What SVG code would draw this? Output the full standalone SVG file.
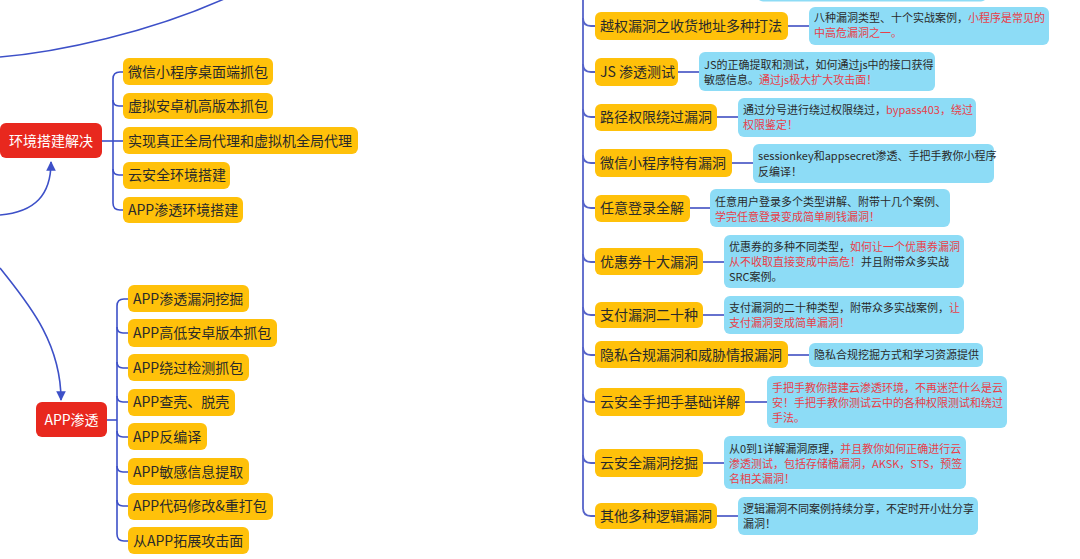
<svg xmlns="http://www.w3.org/2000/svg" width="1080" height="559" viewBox="0 0 1080 559">
<style>
.bg{fill:#ffffff}
.ln{fill:none;stroke:#3d50c8;stroke-width:1.6}
.lnr{fill:none;stroke:#5563c9;stroke-width:1.8}
.red{fill:#e8281e}
.org{fill:#ffc10a}
.blu{fill:#8ddcf6}
.t{font-family:"Noto Sans CJK SC","Noto Sans",sans-serif;font-size:14px;fill:#2a2a2a}
.tw{font-family:"Noto Sans CJK SC","Noto Sans",sans-serif;font-size:14px;fill:#ffffff}
.s{font-family:"Noto Sans CJK SC","Noto Sans",sans-serif;font-size:11px;fill:#2a2a2a}
.r{fill:#e8404a}
</style>
<defs>
<marker id="ah" viewBox="0 0 10 10" refX="9" refY="5" markerWidth="6" markerHeight="6" orient="auto-start-reverse">
<path d="M0,0 L10,5 L0,10 z" fill="#3d50c8"/>
</marker>
</defs>
<rect class="bg" x="0" y="0" width="1080" height="559"/>

<g id="connectors">
<path class="ln" d="M0,57 C60,52 150,32 224,-1"/>
<path class="ln" d="M0,215 C35,212 51,195 51,162" marker-end="url(#ah)"/>
<path class="ln" d="M0,268 C25,300 61,340 61,400" marker-end="url(#ah)"/>
<!-- bracket 1 -->
<path class="ln" d="M102,141 H113"/>
<path class="ln" d="M123,72 H120 Q113,72 113,79 V203 Q113,210 120,210 H123"/>
<path class="ln" d="M113,100 Q113,106 119,106 H123"/>
<path class="ln" d="M113,141 H123"/>
<path class="ln" d="M113,169 Q113,175 119,175 H123"/>
<!-- bracket 2 -->
<path class="ln" d="M107,420 H117"/>
<path class="ln" d="M128,299 H124 Q117,299 117,306 V534 Q117,541 124,541 H128"/>
<path class="ln" d="M117,327 Q117,333 123,333 H128"/>
<path class="ln" d="M117,362 Q117,368 123,368 H128"/>
<path class="ln" d="M117,396 Q117,402 123,402 H128"/>
<path class="ln" d="M117,431 Q117,437 123,437 H128"/>
<path class="ln" d="M117,466 Q117,472 123,472 H128"/>
<path class="ln" d="M117,500 Q117,506 123,506 H128"/>
<!-- right trunk -->
<path class="lnr" d="M583,-2 V508 Q583,516 591,516 H595"/>
<path class="lnr" d="M583,18 Q583,26 591,26 H595"/>
<path class="lnr" d="M583,64 Q583,72 591,72 H595"/>
<path class="lnr" d="M583,109 Q583,117 591,117 H595"/>
<path class="lnr" d="M583,155 Q583,163 591,163 H595"/>
<path class="lnr" d="M583,200 Q583,208 591,208 H595"/>
<path class="lnr" d="M583,254 Q583,262 591,262 H595"/>
<path class="lnr" d="M583,307 Q583,315 591,315 H595"/>
<path class="lnr" d="M583,347 Q583,355 591,355 H595"/>
<path class="lnr" d="M583,394 Q583,402 591,402 H595"/>
<path class="lnr" d="M583,455 Q583,463 591,463 H595"/>
<!-- node to note -->
<path class="lnr" d="M788,26 H809"/>
<path class="lnr" d="M678,72 H699"/>
<path class="lnr" d="M717,117 H738"/>
<path class="lnr" d="M732,163 H753"/>
<path class="lnr" d="M690,208 H710"/>
<path class="lnr" d="M703,262 H724"/>
<path class="lnr" d="M703,315 H724"/>
<path class="lnr" d="M788,355 H809"/>
<path class="lnr" d="M745,402 H767"/>
<path class="lnr" d="M703,463 H724"/>
<path class="lnr" d="M717,516 H738"/>
</g>

<g id="n-env"><rect class="red" x="0" y="123" width="102" height="35" rx="6"/><text class="tw" x="9" y="146">环境搭建解决</text></g>
<g id="n-env1"><rect class="org" x="123" y="58" width="150" height="27" rx="6"/><text class="t" x="128" y="77">微信小程序桌面端抓包</text></g>
<g id="n-env2"><rect class="org" x="123" y="93" width="150" height="26" rx="6"/><text class="t" x="128" y="111">虚拟安卓机高版本抓包</text></g>
<g id="n-env3"><rect class="org" x="123" y="127" width="235" height="27" rx="6"/><text class="t" x="128" y="146">实现真正全局代理和虚拟机全局代理</text></g>
<g id="n-env4"><rect class="org" x="123" y="162" width="107" height="27" rx="6"/><text class="t" x="128" y="180">云安全环境搭建</text></g>
<g id="n-env5"><rect class="org" x="123" y="197" width="120" height="26" rx="6"/><text class="t" x="128" y="215">APP渗透环境搭建</text></g>

<g id="n-app"><rect class="red" x="36" y="402" width="71" height="35" rx="6"/><text class="tw" x="71.5" y="425" text-anchor="middle">APP渗透</text></g>
<g id="n-app1"><rect class="org" x="128" y="285" width="121" height="27" rx="6"/><text class="t" x="133" y="304">APP渗透漏洞挖掘</text></g>
<g id="n-app2"><rect class="org" x="128" y="319" width="149" height="28" rx="6"/><text class="t" x="133" y="338">APP高低安卓版本抓包</text></g>
<g id="n-app3"><rect class="org" x="128" y="354" width="121" height="27" rx="6"/><text class="t" x="133" y="373">APP绕过检测抓包</text></g>
<g id="n-app4"><rect class="org" x="128" y="389" width="107" height="27" rx="6"/><text class="t" x="133" y="407">APP查壳、脱壳</text></g>
<g id="n-app5"><rect class="org" x="128" y="423" width="79" height="27" rx="6"/><text class="t" x="133" y="442">APP反编译</text></g>
<g id="n-app6"><rect class="org" x="128" y="458" width="121" height="27" rx="6"/><text class="t" x="133" y="477">APP敏感信息提取</text></g>
<g id="n-app7"><rect class="org" x="128" y="493" width="145" height="27" rx="6"/><text class="t" x="133" y="511">APP代码修改&amp;重打包</text></g>
<g id="n-app8"><rect class="org" x="128" y="527" width="121" height="27" rx="6"/><text class="t" x="133" y="546">从APP拓展攻击面</text></g>

<g id="n-top-note"><rect class="blu" x="757" y="-30" width="230" height="31.5" rx="6"/></g>

<g id="n-r1"><rect class="org" x="595" y="12" width="193" height="28" rx="6"/><text class="t" x="600" y="31">越权漏洞之收货地址多种打法</text></g>
<g id="n-r1-note"><rect class="blu" x="809" y="7" width="240" height="38" rx="6"/><text class="s" x="814" y="22">八种漏洞类型、十个实战案例，<tspan class="r">小程序是常见的</tspan></text><text class="s r" x="814" y="37">中高危漏洞之一。</text></g>

<g id="n-r2"><rect class="org" x="595" y="58" width="83" height="28" rx="6"/><text class="t" x="600" y="77">JS 渗透测试</text></g>
<g id="n-r2-note"><rect class="blu" x="699" y="52" width="236" height="39" rx="6"/><text class="s" x="704" y="69">JS的正确提取和测试，如何通过js中的接口获得</text><text class="s" x="704" y="84">敏感信息。<tspan class="r">通过js极大扩大攻击面！</tspan></text></g>

<g id="n-r3"><rect class="org" x="595" y="104" width="122" height="27" rx="6"/><text class="t" x="600" y="122">路径权限绕过漏洞</text></g>
<g id="n-r3-note"><rect class="blu" x="738" y="98" width="238" height="39" rx="6"/><text class="s" x="743" y="114">通过分号进行绕过权限绕过，<tspan class="r">bypass403，绕过</tspan></text><text class="s r" x="743" y="129">权限鉴定！</text></g>

<g id="n-r4"><rect class="org" x="595" y="149" width="137" height="28" rx="6"/><text class="t" x="600" y="168">微信小程序特有漏洞</text></g>
<g id="n-r4-note"><rect class="blu" x="753" y="144" width="241" height="39" rx="6"/><text class="s" x="758" y="160">sessionkey和appsecret渗透、手把手教你小程序</text><text class="s" x="758" y="176">反编译！</text></g>

<g id="n-r5"><rect class="org" x="595" y="195" width="95" height="27" rx="6"/><text class="t" x="600" y="213">任意登录全解</text></g>
<g id="n-r5-note"><rect class="blu" x="710" y="189" width="240" height="38" rx="6"/><text class="s" x="715" y="206">任意用户登录多个类型讲解、附带十几个案例、</text><text class="s r" x="715" y="221">学完任意登录变成简单刷钱漏洞！</text></g>

<g id="n-r6"><rect class="org" x="595" y="248" width="108" height="27" rx="6"/><text class="t" x="600" y="267">优惠券十大漏洞</text></g>
<g id="n-r6-note"><rect class="blu" x="724" y="235" width="240" height="53" rx="6"/><text class="s" x="729" y="251">优惠券的多种不同类型，<tspan class="r">如何让一个优惠券漏洞</tspan></text><text class="s" x="729" y="266"><tspan class="r">从不收取直接变成中高危！</tspan>并且附带众多实战</text><text class="s" x="729" y="281">SRC案例。</text></g>

<g id="n-r7"><rect class="org" x="595" y="302" width="108" height="26" rx="6"/><text class="t" x="600" y="320">支付漏洞二十种</text></g>
<g id="n-r7-note"><rect class="blu" x="724" y="296" width="240" height="38" rx="6"/><text class="s" x="729" y="312">支付漏洞的二十种类型，附带众多实战案例，<tspan class="r">让</tspan></text><text class="s r" x="729" y="327">支付漏洞变成简单漏洞！</text></g>

<g id="n-r8"><rect class="org" x="595" y="341" width="193" height="27" rx="6"/><text class="t" x="600" y="360">隐私合规漏洞和威胁情报漏洞</text></g>
<g id="n-r8-note"><rect class="blu" x="809" y="343" width="174" height="24" rx="6"/><text class="s" x="814" y="359">隐私合规挖掘方式和学习资源提供</text></g>

<g id="n-r9"><rect class="org" x="595" y="388" width="150" height="28" rx="6"/><text class="t" x="600" y="407">云安全手把手基础详解</text></g>
<g id="n-r9-note"><rect class="blu" x="767" y="376" width="240" height="52" rx="6"/><text class="s r" x="772" y="392">手把手教你搭建云渗透环境，不再迷茫什么是云</text><text class="s r" x="772" y="407">安！手把手教你测试云中的各种权限测试和绕过</text><text class="s r" x="772" y="422">手法。</text></g>

<g id="n-r10"><rect class="org" x="595" y="449" width="108" height="28" rx="6"/><text class="t" x="600" y="468">云安全漏洞挖掘</text></g>
<g id="n-r10-note"><rect class="blu" x="724" y="436" width="242" height="53" rx="6"/><text class="s" x="729" y="453">从0到1详解漏洞原理，<tspan class="r">并且教你如何正确进行云</tspan></text><text class="s r" x="729" y="468">渗透测试，包括存储桶漏洞，AKSK，STS，预签</text><text class="s r" x="729" y="483">名相关漏洞！</text></g>

<g id="n-r11"><rect class="org" x="595" y="503" width="122" height="26" rx="6"/><text class="t" x="600" y="521">其他多种逻辑漏洞</text></g>
<g id="n-r11-note"><rect class="blu" x="738" y="497" width="240" height="38" rx="6"/><text class="s" x="743" y="513">逻辑漏洞不同案例持续分享，不定时开小灶分享</text><text class="s" x="743" y="528">漏洞！</text></g>
</svg>
